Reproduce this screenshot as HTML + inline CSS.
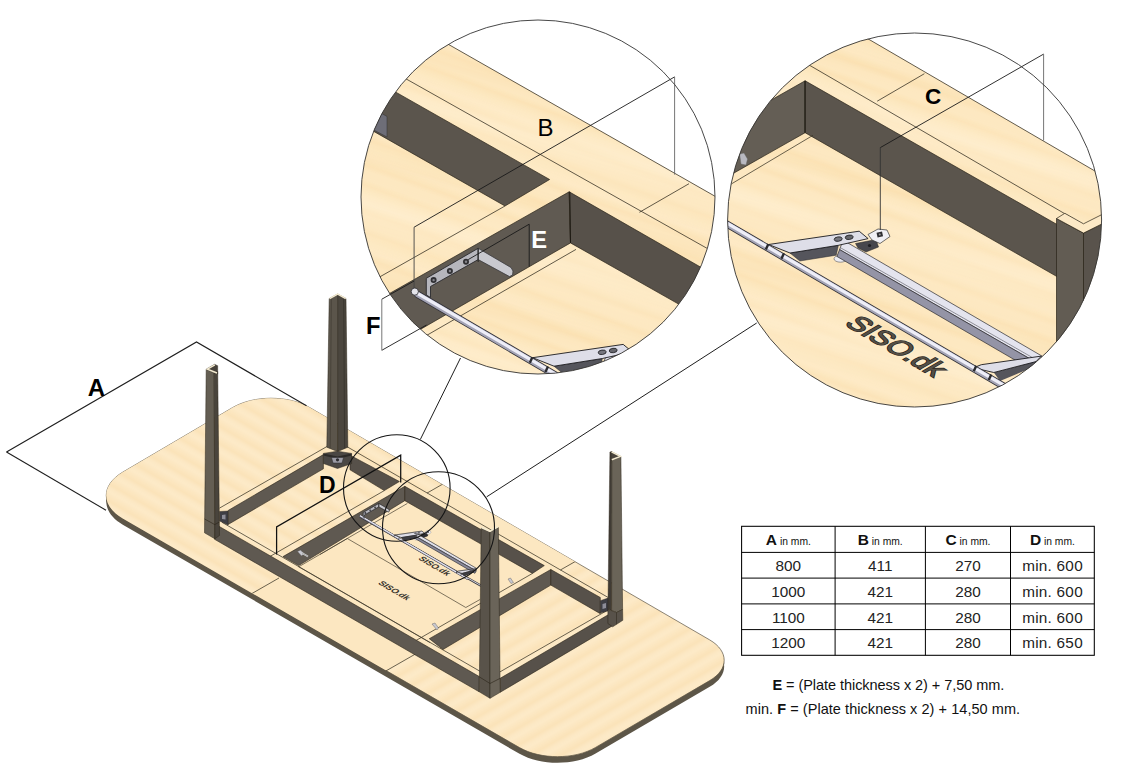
<!DOCTYPE html>
<html><head><meta charset="utf-8"><style>
html,body{margin:0;padding:0;background:#fff;}
svg{display:block;font-family:"Liberation Sans",sans-serif;}
</style></head><body>
<svg width="1145" height="768" viewBox="0 0 1145 768">
<defs>
<linearGradient id="gw" x1="0" y1="0" x2="0" y2="1">
<stop offset="0" stop-color="#fde8c0"/><stop offset="0.12" stop-color="#fce3b6"/><stop offset="0.2" stop-color="#fce6bc"/><stop offset="0.32" stop-color="#fde9c2"/>
<stop offset="0.5" stop-color="#feeac6"/><stop offset="0.62" stop-color="#fce6bc"/><stop offset="0.68" stop-color="#fce3b7"/><stop offset="0.8" stop-color="#fde8c1"/><stop offset="1" stop-color="#fde8c1"/>
</linearGradient>
<linearGradient id="gw2" x1="0" y1="0" x2="0" y2="1">
<stop offset="0" stop-color="#fce7c1"/><stop offset="0.3" stop-color="#fbe3b9"/><stop offset="0.55" stop-color="#fce8c4"/>
<stop offset="0.75" stop-color="#fdeac8"/><stop offset="1" stop-color="#fce7c1"/>
</linearGradient>
<pattern id="wood" width="20" height="15" patternUnits="userSpaceOnUse" patternTransform="rotate(-30)"><rect width="20" height="15" fill="url(#gw2)"/></pattern>
<pattern id="woodL" width="20" height="15" patternUnits="userSpaceOnUse" patternTransform="rotate(30)"><rect width="20" height="15" fill="url(#gw2)"/></pattern>
<pattern id="woodB" width="20" height="44" patternUnits="userSpaceOnUse" patternTransform="rotate(20)"><rect width="20" height="44" fill="url(#gw)"/></pattern>
<linearGradient id="gw3" x1="0" y1="0" x2="0" y2="1">
<stop offset="0" stop-color="#fde9c4" stop-opacity="0.55"/><stop offset="0.25" stop-color="#fde9c4" stop-opacity="0.1"/><stop offset="0.45" stop-color="#f9dca8" stop-opacity="0.3"/>
<stop offset="0.6" stop-color="#fde9c4" stop-opacity="0.0"/><stop offset="0.85" stop-color="#fff0d4" stop-opacity="0.5"/><stop offset="1" stop-color="#fde9c4" stop-opacity="0.55"/>
</linearGradient>
<pattern id="woodB2" width="20" height="113" patternUnits="userSpaceOnUse" patternTransform="rotate(16)"><rect width="20" height="113" fill="url(#gw3)"/></pattern>
</defs>
<rect width="1145" height="768" fill="#fff"/>
<path d="M122.8,524.7 C100.8,512.0 100.8,491.3 122.7,478.4 L232.4,413.9 C253.6,401.4 288.2,401.3 309.6,413.7 L709.7,646.1 C729.0,657.3 729.0,675.6 709.7,686.8 L595.6,753.6 C574.6,765.9 540.5,765.9 519.5,753.8 Z" fill="#5d5648"/>
<path d="M122.8,521.5 C100.8,508.8 100.8,488.1 122.7,475.2 L232.4,410.7 C253.6,398.2 288.2,398.1 309.6,410.5 L709.7,642.9 C729.0,654.1 729.0,672.4 709.7,683.6 L595.6,750.4 C574.6,762.7 540.5,762.7 519.5,750.6 Z" fill="#5d5648"/>
<path d="M122.8,518.5 C100.8,505.8 100.8,485.1 122.7,472.2 L232.4,407.7 C253.6,395.2 288.2,395.1 309.6,407.5 L709.7,639.9 C729.0,651.1 729.0,669.4 709.7,680.6 L595.6,747.4 C574.6,759.7 540.5,759.7 519.5,747.6 Z" fill="url(#wood)" stroke="#5a5240" stroke-width="0.7"/>
<clipPath id="ct"><path d="M122.8,518.5 C100.8,505.8 100.8,485.1 122.7,472.2 L232.4,407.7 C253.6,395.2 288.2,395.1 309.6,407.5 L709.7,639.9 C729.0,651.1 729.0,669.4 709.7,680.6 L595.6,747.4 C574.6,759.7 540.5,759.7 519.5,747.6 Z"/></clipPath>
<g clip-path="url(#ct)">
<polygon points="29.0,721.4 579.0,405.9 179.0,174.9 -371.0,490.4" fill="url(#woodL)" stroke="none" stroke-width="0.6" stroke-linejoin="round" />
<polygon points="29.0,721.4 579.0,405.9 874.9,389.6 274.9,733.8" fill="#fce7c1" stroke="none" stroke-width="0.6" stroke-linejoin="round" />
</g>
<g clip-path="url(#ct)">
<line x1="219.0" y1="612.4" x2="279.0" y2="578.0" stroke="#3a3426" stroke-width="0.75" />
<line x1="427.0" y1="493.1" x2="454.0" y2="477.6" stroke="#3a3426" stroke-width="0.75" />
<line x1="560.4" y1="570.0" x2="580.9" y2="558.3" stroke="#3a3426" stroke-width="0.75" />
<line x1="355.5" y1="688.4" x2="419.5" y2="651.7" stroke="#3a3426" stroke-width="0.75" />
</g>
<line x1="347.0" y1="446.7" x2="608.0" y2="597.4" stroke="#3a3426" stroke-width="0.75" />
<line x1="219.5" y1="508.1" x2="327.5" y2="446.2" stroke="#3a3426" stroke-width="0.75" />
<line x1="222.0" y1="522.3" x2="484.0" y2="673.6" stroke="#3a3426" stroke-width="0.75" />
<line x1="494.0" y1="675.3" x2="606.0" y2="611.1" stroke="#3a3426" stroke-width="0.75" />
<polygon points="228.1,510.5 323.4,454.6 323.4,468.8 228.1,524.5" fill="#5f5951" stroke="#2a2418" stroke-width="0.6" stroke-linejoin="round" />
<polygon points="219.5,511.5 228.0,511.0 228.0,525.0 219.5,521.0" fill="#3e3e44" stroke="#2a2418" stroke-width="0.4" stroke-linejoin="round" />
<polygon points="222.0,515.0 225.5,514.5 225.5,519.5 222.0,519.0" fill="#8d8d98" stroke="none" stroke-width="0.6" stroke-linejoin="round" />
<polygon points="350.0,455.2 399.4,481.5 384.3,490.6 350.0,469.8" fill="#57514a" stroke="#2a2418" stroke-width="0.6" stroke-linejoin="round" />
<line x1="384.3" y1="490.6" x2="268.0" y2="557.6" stroke="#3a3426" stroke-width="0.75" />
<polygon points="404.8,486.3 283.0,556.6 298.7,565.6 404.8,500.7" fill="#5f5951" stroke="#2a2418" stroke-width="0.6" stroke-linejoin="round" />
<line x1="407.4" y1="503.4" x2="298.7" y2="566.8" stroke="#3a3426" stroke-width="0.65" />
<polygon points="404.8,486.3 544.3,565.6 532.5,573.4 404.8,500.7" fill="#57514a" stroke="#2a2418" stroke-width="0.6" stroke-linejoin="round" />
<line x1="532.5" y1="573.4" x2="416.0" y2="640.5" stroke="#3a3426" stroke-width="0.75" />
<polygon points="550.8,569.5 429.3,638.7 443.0,649.5 550.8,585.1" fill="#5f5951" stroke="#2a2418" stroke-width="0.6" stroke-linejoin="round" />
<polygon points="550.8,569.5 600.3,597.5 600.3,613.7 550.8,585.1" fill="#57514a" stroke="#2a2418" stroke-width="0.6" stroke-linejoin="round" />
<polygon points="600.3,600.7 608.0,598.0 608.0,611.0 600.3,613.0" fill="#3e3e44" stroke="#2a2418" stroke-width="0.4" stroke-linejoin="round" />
<polygon points="602.5,604.0 606.0,603.0 606.0,608.0 602.5,609.0" fill="#8d8d98" stroke="none" stroke-width="0.6" stroke-linejoin="round" />
<line x1="347.3" y1="538.5" x2="465.8" y2="607.5" stroke="#3a3426" stroke-width="0.65" />
<line x1="298.7" y1="566.8" x2="430.0" y2="642.6" stroke="#3a3426" stroke-width="0.65" />
<line x1="347.3" y1="538.5" x2="320.0" y2="554.5" stroke="#3a3426" stroke-width="0.65" />
<line x1="465.8" y1="607.5" x2="480.0" y2="599.5" stroke="#3a3426" stroke-width="0.65" />
<g clip-path="url(#ct)">
<line x1="360" y1="516.5" x2="481" y2="585.8" stroke="#3a3a40" stroke-width="2.3"/><line x1="360" y1="516.3" x2="481" y2="585.6" stroke="#e4e4ec" stroke-width="0.9"/>
<use href="#mechB" transform="translate(396.8,488) scale(0.3011) translate(-538,-197)"/>
<use href="#mechC" transform="translate(438.5,527.7) scale(0.2995) translate(-914.6,-220)"/>
<text transform="matrix(0.866,0.51,-0.866,0.5,377.5,583.5)" font-size="8.7" font-weight="bold" fill="#3a362e">SISO.dk</text>
<text transform="matrix(0.866,0.51,-0.866,0.5,417.7,559)" font-size="8.7" font-weight="bold" fill="#3a362e">SISO.dk</text>
<polygon points="432,624 435,623 438.5,628 437,630" fill="#c8c8d0" stroke="#555" stroke-width="0.4"/><polygon points="508,579 510.5,578 513.5,582.5 511,583.5" fill="#c8c8d0" stroke="#555" stroke-width="0.4"/>
<polygon points="297.5,551.5 300.5,550 304,553.5 301.5,556" fill="#c8c8d0" stroke="#555" stroke-width="0.4"/><line x1="302" y1="553" x2="308" y2="556.5" stroke="#ddd" stroke-width="1.5"/><line x1="302" y1="553" x2="308" y2="556.5" stroke="#555" stroke-width="0.4"/>
<polygon points="416.0,536.6 417.1,533.7 476.7,568.5 476.1,571.0" fill="none" stroke="#2a2a2e" stroke-width="0.55" stroke-linejoin="round"/>
<polygon points="415.2,538.6 416.0,536.6 476.1,571.0 474.9,573.3" fill="#8a8a9a" stroke="#2a2a2e" stroke-width="0.55" stroke-linejoin="round"/>
<polygon points="394.8,535.0 421.9,531.1 424.6,533.3 415.7,535.3 401.2,537.6" fill="none" stroke="#2a2a2e" stroke-width="0.55" stroke-linejoin="round"/>
<polygon points="401.2,537.6 415.7,535.3 415.0,538.2 404.1,540.0" fill="#3e3e44" stroke="#2a2a2e" stroke-width="0.55" stroke-linejoin="round"/>
<polygon points="420.8,534.7 426.9,533.5 427.7,535.8 423.9,537.3 421.6,536.1" fill="#2e2e33" stroke="#2a2a2e" stroke-width="0.55" stroke-linejoin="round"/>
<polygon points="456.1,572.0 458.5,571.0 476.5,568.5 474.9,570.1 462.2,573.4" fill="none" stroke="#2a2a2e" stroke-width="0.55" stroke-linejoin="round"/>
<polygon points="462.2,573.4 474.9,570.1 473.1,572.2 464.1,575.9" fill="#3e3e44" stroke="#2a2a2e" stroke-width="0.55" stroke-linejoin="round"/>
<polygon points="363.2,512.5 378.8,503.4 378.8,506.9 364.4,515.0 364.4,518.3 363.2,517.5" fill="none" stroke="#2a2a2e" stroke-width="0.55" stroke-linejoin="round"/>
<polygon points="378.8,503.4 388.7,509.2 389.3,510.3 389.2,511.5 388.2,512.0 378.8,506.9" fill="none" stroke="#2a2a2e" stroke-width="0.55" stroke-linejoin="round"/>
</g>
<polygon points="215.0,524.0 479.2,676.5 479.2,691.8 214.6,539.3" fill="#5f5951" stroke="#2a2418" stroke-width="0.6" stroke-linejoin="round" />
<polygon points="500.2,678.3 612.4,612.3 612.6,625.7 500.2,692.3" fill="#57514a" stroke="#2a2418" stroke-width="0.6" stroke-linejoin="round" />
<polygon points="206.6,368.9 214.6,364.3 217.7,365.7 217.7,374.0 206.6,369.5" fill="#46413a" stroke="#2a2418" stroke-width="0.4" stroke-linejoin="round" />
<polygon points="206.2,369.2 214.2,373.0 214.8,538.8 204.5,532.8" fill="#645e53" stroke="#2a2418" stroke-width="0.5" stroke-linejoin="round" />
<polygon points="214.2,373.0 217.7,371.5 219.5,535.5 214.8,538.8" fill="#49443c" stroke="#2a2418" stroke-width="0.5" stroke-linejoin="round" />
<polyline points="204.6,519.0 214.8,524.6 219.4,522.0" fill="none" stroke="#2a2418" stroke-width="0.6" />
<polyline points="214.9,364.9 207.4,369.1 217.0,373.0" fill="none" stroke="#f3ead0" stroke-width="1.5" stroke-linejoin="miter"/>
<polygon points="329.2,298.6 337.7,294.0 337.7,451.6 326.8,447.2" fill="#5b554b" stroke="#2a2418" stroke-width="0.5" stroke-linejoin="round" />
<polygon points="337.7,294.0 346.0,298.6 347.8,447.2 337.7,451.6" fill="#4b463e" stroke="#2a2418" stroke-width="0.5" stroke-linejoin="round" />
<line x1="331.3" y1="298.5" x2="330.2" y2="448.5" stroke="#3a352d" stroke-width="0.6" />
<line x1="343.7" y1="298.5" x2="344.6" y2="448.5" stroke="#2f2b25" stroke-width="0.6" />
<polyline points="329.6,298.6 337.7,294.2 345.7,298.6" fill="none" stroke="#f3ead0" stroke-width="1.5" />
<polygon points="323.4,453.4 337.5,451.2 351.6,453.4 351.6,463.5 337.5,468.5 323.4,463.5" fill="#4a4744" stroke="#2a2418" stroke-width="0.5" stroke-linejoin="round" />
<polygon points="323.4,453.4 337.5,456.5 351.6,453.4 351.6,455.5 337.5,459.0 323.4,455.5" fill="#2c2a28" stroke="none" stroke-width="0.6" stroke-linejoin="round" />
<polygon points="331.5,457.5 343.5,457.5 342.0,463.0 333.0,463.0" fill="#9c9ca6" stroke="#2a2a2e" stroke-width="0.5" stroke-linejoin="round" />
<circle cx="337.5" cy="459.8" r="1.6" fill="#2a2a2e"/>
<polygon points="609.9,452.0 611.8,451.5 611.6,610.6 607.9,609.3" fill="#403b34" stroke="#2a2418" stroke-width="0.4" stroke-linejoin="round" />
<polygon points="611.8,460.0 620.9,456.6 622.6,609.5 616.5,612.5 611.6,610.6" fill="#6a6458" stroke="#2a2418" stroke-width="0.5" stroke-linejoin="round" />
<polygon points="611.4,451.5 620.9,456.4 611.6,460.2" fill="#4a453d" stroke="#2a2418" stroke-width="0.3" stroke-linejoin="round" />
<polygon points="607.9,609.3 616.5,612.5 622.6,609.5 622.8,620.3 612.7,626.8 607.9,623.5" fill="#58524a" stroke="#2a2418" stroke-width="0.5" stroke-linejoin="round" />
<line x1="616.5" y1="612.5" x2="616.5" y2="624.3" stroke="#2a2418" stroke-width="0.5" />
<polyline points="611.5,451.8 620.4,456.4 611.8,459.8" fill="none" stroke="#f3ead0" stroke-width="1.5" />
<polygon points="481.2,528.2 490.0,532.0 490.0,698.3 479.2,691.8" fill="#59534a" stroke="#2a2418" stroke-width="0.5" stroke-linejoin="round" />
<polygon points="490.0,532.0 498.4,527.6 500.2,692.3 490.0,698.3" fill="#6a6459" stroke="#2a2418" stroke-width="0.5" stroke-linejoin="round" />
<polyline points="481.6,527.4 489.9,531.2 497.8,526.8" fill="none" stroke="#f3ead0" stroke-width="1.7" />
<polyline points="479.2,676.8 490.0,683.5 500.2,678.3" fill="none" stroke="#2a2418" stroke-width="0.6" />
<polyline points="6.5,452.0 196.5,342.0 306.5,405.8" fill="none" stroke="#1e1e1e" stroke-width="1.1" />
<line x1="6.5" y1="452.0" x2="106.0" y2="510.2" stroke="#1e1e1e" stroke-width="1.1" />
<polyline points="276.6,554.5 276.6,526.9 400.7,455.2 400.7,482.5" fill="none" stroke="#111" stroke-width="1.25" />
<circle cx="396.8" cy="488" r="53.3" fill="none" stroke="#151515" stroke-width="1.1"/>
<circle cx="438.5" cy="527.7" r="56" fill="none" stroke="#151515" stroke-width="1.1"/>
<line x1="420.3" y1="439.5" x2="460.5" y2="358.0" stroke="#1e1e1e" stroke-width="1" />
<line x1="486.7" y1="496.8" x2="756.7" y2="323.0" stroke="#1e1e1e" stroke-width="1" />
<clipPath id="cb"><circle cx="538" cy="197" r="177"/></clipPath>
<g clip-path="url(#cb)">
<polygon points="340.0,-17.4 740.0,210.5 740.0,400.0 340.0,400.0" fill="url(#woodB)" stroke="none" stroke-width="0.6" stroke-linejoin="round" />
<polygon points="340.0,-17.4 740.0,210.5 740.0,400.0 340.0,400.0" fill="url(#woodB2)" stroke="none" stroke-width="0.6" stroke-linejoin="round" />
<line x1="340.0" y1="-17.4" x2="740.0" y2="210.5" stroke="#3a3426" stroke-width="0.8" />
<line x1="340.0" y1="41.7" x2="740.0" y2="266.9" stroke="#3a3426" stroke-width="0.8" />
<line x1="689.0" y1="183.7" x2="639.4" y2="212.3" stroke="#3a3426" stroke-width="0.8" />
<polygon points="340.0,60.5 549.6,179.5 505.0,206.0 340.0,112.2" fill="#5b554d" stroke="#2a2418" stroke-width="0.7" stroke-linejoin="round" />
<polygon points="370.0,107.0 387.0,116.5 387.0,137.0 370.0,128.0" fill="#6e6e78" stroke="#333" stroke-width="0.5" stroke-linejoin="round" />
<line x1="505.0" y1="206.0" x2="340.0" y2="299.4" stroke="#3a3426" stroke-width="0.8" />
<polygon points="569.2,191.8 340.0,321.5 340.0,375.7 570.5,242.9" fill="#605a52" stroke="#2a2418" stroke-width="0.7" stroke-linejoin="round" />
<polygon points="569.2,191.8 740.0,289.7 740.0,338.8 570.5,242.9" fill="#57514a" stroke="#2a2418" stroke-width="0.7" stroke-linejoin="round" />
<line x1="569.8" y1="191.8" x2="570.5" y2="242.9" stroke="#1a1610" stroke-width="0.9" />
<line x1="576.0" y1="249.4" x2="340.0" y2="385.3" stroke="#3a3426" stroke-width="0.8" />
<g id="mechB">
<polygon points="426.3,278.3 478.2,248.3 478.2,259.6 430.5,286.5 430.5,297.5 426.3,295.0" fill="#b6b6bd" stroke="#2a2a2e" stroke-width="0.9" stroke-linejoin="round" />
<polygon points="478.2,248.3 511.0,267.5 513.0,271.0 512.6,275.0 509.5,276.6 478.2,259.6" fill="#c9c9cf" stroke="#3a3a3e" stroke-width="0.8" stroke-linejoin="round" />
<circle cx="433.6" cy="280.1" r="3" fill="#303034"/><circle cx="433.6" cy="280.1" r="1.2" fill="#85858c"/>
<circle cx="449.9" cy="271" r="3" fill="#303034"/><circle cx="449.9" cy="271" r="1.2" fill="#85858c"/>
<circle cx="466" cy="261.7" r="3" fill="#303034"/><circle cx="466" cy="261.7" r="1.2" fill="#85858c"/>
</g>
<use href="#mechC" transform="translate(-236,113.2)"/>
<circle cx="414.8" cy="291.6" r="3.6" fill="#e4e4ea" stroke="#2a2a2e" stroke-width="0.8"/>
</g>
<polyline points="468.2,259.6 529.2,224.2 529.2,266.5" fill="none" stroke="#1a1a1a" stroke-width="0.9" />
<line x1="478.2" y1="248.3" x2="478.2" y2="262.0" stroke="#1a1a1a" stroke-width="0.8" />
<line x1="414.1" y1="227.2" x2="674.6" y2="76.9" stroke="#1a1a1a" stroke-width="0.9" />
<line x1="414.1" y1="288.0" x2="414.1" y2="227.2" stroke="#444" stroke-width="0.9" />
<line x1="674.6" y1="76.9" x2="674.6" y2="174.6" stroke="#666" stroke-width="0.9" />
<line x1="414.1" y1="281.0" x2="381.8" y2="299.2" stroke="#1a1a1a" stroke-width="0.9" />
<line x1="381.8" y1="350.3" x2="426.5" y2="325.0" stroke="#1a1a1a" stroke-width="0.9" />
<line x1="381.8" y1="299.2" x2="381.8" y2="350.3" stroke="#777" stroke-width="1" />
<circle cx="538" cy="197" r="177" fill="none" stroke="#333" stroke-width="0.9"/>
<clipPath id="cc"><circle cx="914.6" cy="220" r="187"/></clipPath>
<g clip-path="url(#cc)">
<polygon points="720.0,-47.4 1110.0,179.8 1110.0,420.0 720.0,420.0" fill="url(#woodB)" stroke="none" stroke-width="0.6" stroke-linejoin="round" />
<polygon points="720.0,-47.4 1110.0,179.8 1110.0,420.0 720.0,420.0" fill="url(#woodB2)" stroke="none" stroke-width="0.6" stroke-linejoin="round" />
<line x1="720.0" y1="-47.4" x2="1110.0" y2="179.8" stroke="#3a3426" stroke-width="0.8" />
<line x1="720.0" y1="13.2" x2="1110.0" y2="240.0" stroke="#3a3426" stroke-width="0.8" />
<line x1="924.4" y1="73.7" x2="877.2" y2="101.2" stroke="#3a3426" stroke-width="0.8" />
<polygon points="805.1,80.8 720.0,129.0 720.0,180.9 805.1,132.7" fill="#645e55" stroke="#2a2418" stroke-width="0.7" stroke-linejoin="round" />
<polygon points="739.6,154.0 744.0,153.0 747.5,159.0 746.0,165.0 741.0,164.0" fill="#b9b9c0" stroke="#666" stroke-width="0.4" stroke-linejoin="round" />
<polygon points="805.1,80.8 1060.0,226.2 1060.0,278.3 805.1,132.7" fill="#5b554d" stroke="#2a2418" stroke-width="0.7" stroke-linejoin="round" />
<line x1="805.1" y1="80.8" x2="805.1" y2="132.7" stroke="#1a1610" stroke-width="0.9" />
<line x1="813.0" y1="135.3" x2="720.0" y2="190.7" stroke="#3a3426" stroke-width="0.75" />
<polygon points="1056.5,218.5 1083.5,233.1 1083.5,420.0 1056.5,420.0" fill="#625c53" stroke="#2a2418" stroke-width="0.7" stroke-linejoin="round" />
<polygon points="1083.5,233.1 1110.0,219.9 1110.0,420.0 1083.5,420.0" fill="#59534c" stroke="#2a2418" stroke-width="0.7" stroke-linejoin="round" />
<polygon points="1056.5,218.5 1064.8,213.3 1083.5,223.8 1110.0,210.5 1110.0,219.9 1083.5,233.1" fill="#fce9c6" stroke="#2a2418" stroke-width="0.7" stroke-linejoin="round" />
<g id="mechC">
<ellipse cx="840.5" cy="258.8" rx="6.5" ry="3.4" fill="#ececf2" stroke="#55555a" stroke-width="0.6"/>
<polygon points="839.6,249.6 843.0,240.1 1042.0,356.1 1040.0,364.6" fill="#e4e4ee" stroke="#2a2a2e" stroke-width="0.7" stroke-linejoin="round" />
<polygon points="836.9,256.4 839.6,249.6 1040.0,364.6 1036.0,372.3" fill="#9494a6" stroke="#2a2a2e" stroke-width="0.7" stroke-linejoin="round" />
<line x1="840.3" y1="247.6" x2="1040.5" y2="362.2" stroke="#55555c" stroke-width="0.6" />
<polygon points="790.0,253.0 838.4,245.3 836.2,255.2 799.8,261.0" fill="#55555c" stroke="#2a2a2e" stroke-width="0.5" stroke-linejoin="round" />
<polygon points="855.5,243.5 876.0,239.5 878.5,247.0 866.0,252.0 858.0,248.0" fill="#47474d" stroke="#222" stroke-width="0.5" stroke-linejoin="round" />
<polygon points="768.6,244.5 859.2,231.2 868.1,238.6 838.4,245.3 790.0,253.0" fill="#dedee8" stroke="#1a1a1e" stroke-width="0.9" stroke-linejoin="round" />
<polygon points="868.0,234.5 878.0,229.0 887.0,230.0 890.0,236.5 880.0,243.5 872.0,240.0" fill="#f0f0f5" stroke="#333" stroke-width="0.7" stroke-linejoin="round" />
<rect x="877" y="232" width="5.6" height="5" fill="#2e2e33" transform="rotate(-12 879.8 234.5)"/><circle cx="879.8" cy="234.5" r="1" fill="#999"/>
<ellipse cx="838.2" cy="239.1" rx="4" ry="2.2" fill="#77777e" stroke="#2a2a2e" stroke-width="0.9" transform="rotate(-8 838.2 239.1)"/><ellipse cx="849.2" cy="237.3" rx="4" ry="2.2" fill="#66666c" stroke="#2a2a2e" stroke-width="0.9" transform="rotate(-8 849.2 237.3)"/>
<circle cx="869.5" cy="245.5" r="1.6" fill="#1e1e22"/>
<polygon points="993.8,372.5 1036.0,361.6 1030.0,368.5 1000.0,381.0" fill="#55555c" stroke="none" stroke-width="0.6" stroke-linejoin="round" />
<polygon points="973.4,367.8 981.3,364.7 1041.4,356.1 1036.0,361.6 993.8,372.5" fill="#dedee8" stroke="#1a1a1e" stroke-width="0.9" stroke-linejoin="round" />
<line x1="653.5" y1="181.1" x2="1010.0" y2="389.8" stroke="#34343a" stroke-width="7.2" stroke-linecap="round"/>
<line x1="653.5" y1="181.1" x2="1010.0" y2="389.8" stroke="#a4a4b6" stroke-width="5.6" stroke-linecap="round"/>
<line x1="653.9" y1="180.4" x2="1010.4" y2="389.1" stroke="#eeeef8" stroke-width="3.2" stroke-linecap="round"/>
<line x1="765.8" y1="249.6" x2="768.4" y2="244.0" stroke="#2a2a2e" stroke-width="2.4" />
<line x1="781.4" y1="258.8" x2="784.0" y2="253.2" stroke="#2a2a2e" stroke-width="2.4" />
<line x1="973.7" y1="371.3" x2="976.3" y2="365.7" stroke="#2a2a2e" stroke-width="2.4" />
<line x1="988.7" y1="380.0" x2="991.3" y2="374.4" stroke="#2a2a2e" stroke-width="2.4" />
</g>
<text transform="matrix(0.866,0.51,-0.866,0.5,843.5,324.3)" font-size="27.9" fill="#544f46" stroke="#29251e" stroke-width="1.7" paint-order="stroke">SISO.dk</text>
</g>
<line x1="880.3" y1="147.6" x2="1043.6" y2="54.1" stroke="#1a1a1a" stroke-width="0.9" />
<line x1="880.3" y1="230.0" x2="880.3" y2="147.6" stroke="#333" stroke-width="0.9" />
<line x1="1043.6" y1="54.1" x2="1043.6" y2="140.5" stroke="#666" stroke-width="0.9" />
<circle cx="914.6" cy="220" r="187" fill="none" stroke="#333" stroke-width="0.9"/>
<text x="96.5" y="396" font-size="24" font-weight="bold" fill="#000" text-anchor="middle" >A</text>
<text x="537.6" y="136" font-size="24" font-weight="normal" fill="#000" text-anchor="start" >B</text>
<text x="933" y="103.8" font-size="22.5" font-weight="bold" fill="#000" text-anchor="middle" >C</text>
<text x="327.3" y="492.5" font-size="23" font-weight="bold" fill="#000" text-anchor="middle" >D</text>
<text x="531.3" y="248" font-size="23.7" font-weight="bold" fill="#fff" text-anchor="start" >E</text>
<text x="366.1" y="334" font-size="23.7" font-weight="bold" fill="#000" text-anchor="start" >F</text>
<rect x="741.6" y="526.3" width="352.69999999999993" height="129.0" fill="#fff" stroke="#000" stroke-width="1.05"/>
<line x1="835.1" y1="526.3" x2="835.1" y2="655.3" stroke="#000" stroke-width="1.0" />
<line x1="925.4" y1="526.3" x2="925.4" y2="655.3" stroke="#000" stroke-width="1.0" />
<line x1="1010.5" y1="526.3" x2="1010.5" y2="655.3" stroke="#000" stroke-width="1.0" />
<line x1="741.6" y1="552.4" x2="1094.3" y2="552.4" stroke="#000" stroke-width="1.0" />
<line x1="741.6" y1="578.1" x2="1094.3" y2="578.1" stroke="#000" stroke-width="1.0" />
<line x1="741.6" y1="603.9" x2="1094.3" y2="603.9" stroke="#000" stroke-width="1.0" />
<line x1="741.6" y1="629.6" x2="1094.3" y2="629.6" stroke="#000" stroke-width="1.0" />
<text x="788.35" y="545.0999999999999" text-anchor="middle" fill="#111"><tspan font-size="15.5" font-weight="bold">A</tspan><tspan font-size="10.3"> in mm.</tspan></text>
<text x="880.25" y="545.0999999999999" text-anchor="middle" fill="#111"><tspan font-size="15.5" font-weight="bold">B</tspan><tspan font-size="10.3"> in mm.</tspan></text>
<text x="967.95" y="545.0999999999999" text-anchor="middle" fill="#111"><tspan font-size="15.5" font-weight="bold">C</tspan><tspan font-size="10.3"> in mm.</tspan></text>
<text x="1052.4" y="545.0999999999999" text-anchor="middle" fill="#111"><tspan font-size="15.5" font-weight="bold">D</tspan><tspan font-size="10.3"> in mm.</tspan></text>
<text x="788.35" y="571.0" text-anchor="middle" font-size="15.3" fill="#222">800</text>
<text x="880.25" y="571.0" text-anchor="middle" font-size="15.3" fill="#222">411</text>
<text x="967.95" y="571.0" text-anchor="middle" font-size="15.3" fill="#222">270</text>
<text x="1052.4" y="571.0" text-anchor="middle" font-size="15.3" fill="#222" textLength="60.5">min. 600</text>
<text x="788.35" y="596.7" text-anchor="middle" font-size="15.3" fill="#222">1000</text>
<text x="880.25" y="596.7" text-anchor="middle" font-size="15.3" fill="#222">421</text>
<text x="967.95" y="596.7" text-anchor="middle" font-size="15.3" fill="#222">280</text>
<text x="1052.4" y="596.7" text-anchor="middle" font-size="15.3" fill="#222" textLength="60.5">min. 600</text>
<text x="788.35" y="622.5" text-anchor="middle" font-size="15.3" fill="#222">1100</text>
<text x="880.25" y="622.5" text-anchor="middle" font-size="15.3" fill="#222">421</text>
<text x="967.95" y="622.5" text-anchor="middle" font-size="15.3" fill="#222">280</text>
<text x="1052.4" y="622.5" text-anchor="middle" font-size="15.3" fill="#222" textLength="60.5">min. 600</text>
<text x="788.35" y="648.2" text-anchor="middle" font-size="15.3" fill="#222">1200</text>
<text x="880.25" y="648.2" text-anchor="middle" font-size="15.3" fill="#222">421</text>
<text x="967.95" y="648.2" text-anchor="middle" font-size="15.3" fill="#222">280</text>
<text x="1052.4" y="648.2" text-anchor="middle" font-size="15.3" fill="#222" textLength="60.5">min. 650</text>
<text x="772.5" y="689.5" font-size="14.5" textLength="231.8" fill="#111"><tspan font-weight="bold">E</tspan> = (Plate thickness x 2) + 7,50 mm.</text>
<text x="745.5" y="714" font-size="14.5" textLength="274.6" fill="#111">min. <tspan font-weight="bold">F</tspan> = (Plate thickness x 2) + 14,50 mm.</text>
</svg></body></html>
